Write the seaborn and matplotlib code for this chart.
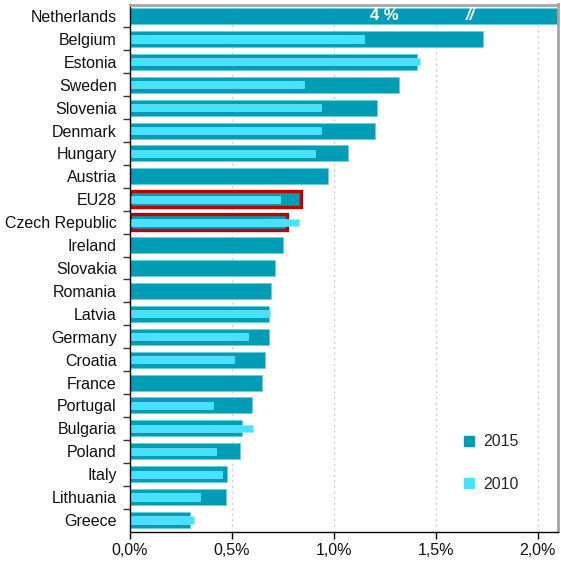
import matplotlib
matplotlib.use("Agg")
import matplotlib.pyplot as plt
from matplotlib.lines import Line2D
from matplotlib.ticker import FuncFormatter, FixedLocator
import numpy as np
import pandas as pd
import seaborn as sns

countries = ["Netherlands", "Belgium", "Estonia", "Sweden", "Slovenia", "Denmark",
             "Hungary", "Austria", "EU28", "Czech Republic", "Ireland", "Slovakia",
             "Romania", "Latvia", "Germany", "Croatia", "France", "Portugal",
             "Bulgaria", "Poland", "Italy", "Lithuania", "Greece"]
val_2015 = [4.0, 1.73, 1.41, 1.32, 1.21, 1.20, 1.07, 0.97, 0.84, 0.77, 0.75, 0.71,
            0.69, 0.68, 0.68, 0.66, 0.65, 0.60, 0.55, 0.54, 0.475, 0.47, 0.295]
val_2010 = [np.nan, 1.15, 1.425, 0.855, 0.935, 0.935, 0.91, np.nan, 0.735, 0.83,
            np.nan, np.nan, np.nan, 0.685, 0.58, 0.51, np.nan, 0.405, 0.605, 0.42,
            0.45, 0.345, 0.315]
highlight = ["EU28", "Czech Republic"]

c2015 = "#019db6"
c2010 = "#46e2ff"

df = pd.DataFrame({"country": countries, "y2015": val_2015, "y2010": val_2010})

sns.set_style("white")
plt.rcParams["font.family"] = ["Liberation Sans", "DejaVu Sans"]

fig = plt.figure(figsize=(5.61, 5.61), dpi=100)
ax = fig.add_axes([130 / 561, 1 - 531.5 / 561, 428 / 561, 527 / 561])

sns.barplot(data=df, x="y2015", y="country", order=countries, color=c2015,
            width=0.7, errorbar=None, saturation=1, edgecolor="#5fd0e0",
            linewidth=0.5, ax=ax)
sns.barplot(data=df.dropna(), x="y2010", y="country", order=countries, color=c2010,
            width=0.32, errorbar=None, saturation=1, edgecolor="#8aeeff",
            linewidth=0.4, ax=ax)

for bar, name in zip(ax.containers[0], countries):
    if name in highlight:
        bar.set_edgecolor("#c00000")
        bar.set_linewidth(2.4)

ax.set_xlim(0, 2.1)
ax.set_xlabel("")
ax.set_ylabel("")
ax.set_axisbelow(True)
ax.xaxis.set_major_locator(FixedLocator([0, 0.5, 1.0, 1.5, 2.0]))
ax.xaxis.set_major_formatter(FuncFormatter(lambda v, p: f"{v:.1f}%".replace(".", ",")))
ax.grid(axis="x", linestyle=(0, (1.5, 2.5)), color="#cccccc", linewidth=1)
ax.grid(axis="y", visible=False)

ax.tick_params(axis="x", bottom=True, length=5, width=1, color="black",
               labelsize=11.5, pad=3, labelcolor="#111111")
ax.tick_params(axis="y", which="major", left=False, labelsize=11.5, pad=6,
               labelcolor="#111111")
ax.set_yticks(np.arange(-0.5, len(countries) - 0.5, 1)[1:], minor=True)
ax.tick_params(axis="y", which="minor", left=True, length=5, width=1, color="#333333")

for s in ["left", "bottom"]:
    ax.spines[s].set_color("black")
    ax.spines[s].set_linewidth(1)
for s in ["top", "right"]:
    ax.spines[s].set_color("#a6a6a6")
    ax.spines[s].set_linewidth(2)

ax.text(1.25, 0, "4 %", color="white", fontsize=12, fontweight="bold",
        ha="center", va="center")
ax.text(1.67, 0, "//", color="white", fontsize=12, fontweight="bold",
        fontstyle="italic", ha="center", va="center")

handles = [Line2D([], [], marker="s", linestyle="", color=c2015, markersize=7),
           Line2D([], [], marker="s", linestyle="", color=c2010, markersize=7)]
ax.legend(handles, ["2015", "2010"], loc="center left", bbox_to_anchor=(0.739, 0.13),
          frameon=False, fontsize=11.5, labelspacing=1.7, handletextpad=0.4,
          handlelength=1.0)

fig.savefig("out.png", dpi=100)
